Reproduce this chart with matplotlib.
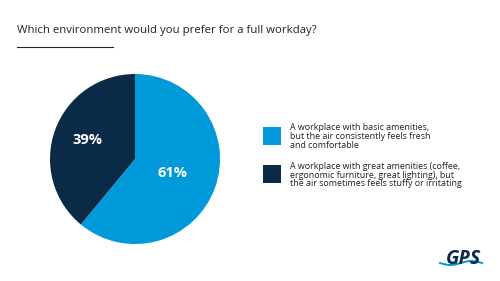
import matplotlib
matplotlib.use("Agg")
import matplotlib.pyplot as plt
import numpy as np
from matplotlib.patches import Rectangle

plt.rcParams['font.family'] = ['Open Sans', 'DejaVu Sans']

title = "Which environment would you prefer for a full workday?"
categories = [
    "A workplace with basic amenities,\nbut the air consistently feels fresh\nand comfortable",
    "A workplace with great amenities (coffee,\nergonomic furniture, great lighting), but\nthe air sometimes feels stuffy or irritating",
]
values = [61, 39]
labels = ["61%", "39%"]
colors = ["#0099DA", "#0A2A47"]

W, H = 500, 281
fig = plt.figure(figsize=(W / 100, H / 100), dpi=100)
fig.patch.set_facecolor("white")

# title
fig.text(17 / W, 1 - 31 / H, title, fontsize=8.2, color="#222222", va="center", ha="left")
fig.add_artist(plt.Line2D([17 / W, 113 / W], [1 - 47 / H, 1 - 47 / H], color="#222222", lw=0.8))

# pie
cx, cy, r = 135, 159, 85
ax = fig.add_axes([(cx - r) / W, 1 - (cy + r) / H, 2 * r / W, 2 * r / H])
wedges, _ = ax.pie(values, colors=colors, startangle=90, counterclock=False,
                   wedgeprops=dict(linewidth=0))
ax.set_aspect("equal")
ax.set_xlim(-1, 1)
ax.set_ylim(-1, 1)
ax.axis("off")

cum = 0
for v, lab in zip(values, labels):
    mid = 90 - (cum + v / 2) / sum(values) * 360
    cum += v
    rr = 0.47 if v > 50 else 0.6
    x, y = rr * np.cos(np.radians(mid)), rr * np.sin(np.radians(mid)) + (0.02 if v < 50 else 0)
    ax.text(x, y, lab, color="white", fontsize=10.5, fontweight="bold", ha="center", va="center")

# legend
leg_y = [135.5, 174]
for c, txt, yy in zip(colors, categories, leg_y):
    fig.add_artist(Rectangle((263 / W, 1 - (yy + 9) / H), 18 / W, 18 / H,
                             transform=fig.transFigure, facecolor=c, edgecolor="none"))
    fig.text(290 / W, 1 - (yy - 12) / H, txt, fontsize=6.4, color="#222222",
             va="top", ha="left", linespacing=0.95)

# logo
fig.text(463 / W, 1 - 259 / H, "GPS", fontsize=14, fontweight="bold", style="italic",
         color="#0A2A47", ha="center", va="center")
t = np.linspace(0, 1, 50)
fig.add_artist(plt.Line2D((440 + 42 * t) / W, (1 - (263 + 2 * np.sin(t * 2 * np.pi)) / H),
                          color="#0099DA", lw=1.4))

fig.savefig("out.png", dpi=100, facecolor="white")
